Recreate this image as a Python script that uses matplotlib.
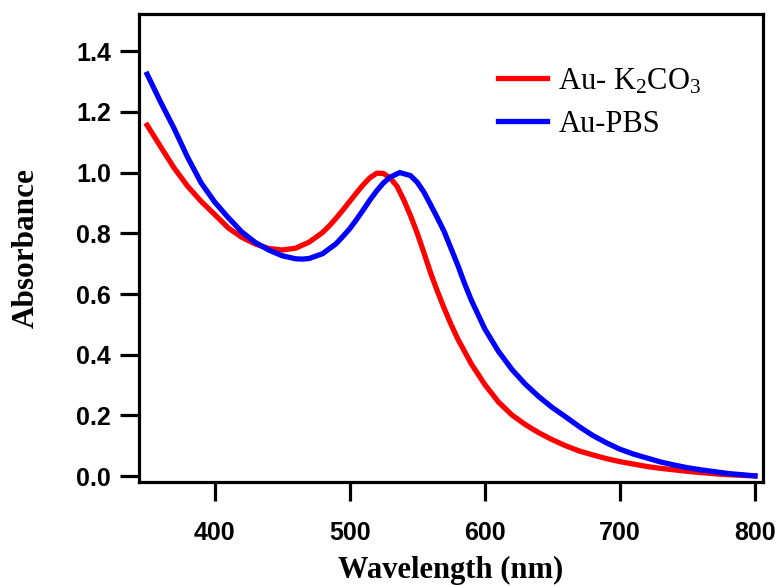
import numpy as np
import matplotlib
matplotlib.use("Agg")
import matplotlib.pyplot as plt
from matplotlib import font_manager as fm

# ---------------------------------------------------------------------------
# Data
# ---------------------------------------------------------------------------
wl_k2co3 = [350, 360, 370, 380, 390, 400, 410, 420, 430, 440, 450, 460, 470,
            480, 485, 490, 495, 500, 505, 510, 515, 520, 525, 530, 535, 540,
            545, 550, 555, 560, 565, 570, 575, 580, 590, 600, 610, 620, 630,
            640, 650, 660, 670, 680, 690, 700, 710, 720, 730, 740, 750, 760,
            770, 780, 790, 800]
abs_k2co3 = [1.156, 1.085, 1.015, 0.955, 0.905, 0.862, 0.818, 0.787, 0.765,
             0.750, 0.745, 0.751, 0.771, 0.803, 0.825, 0.850, 0.877, 0.905,
             0.933, 0.960, 0.983, 0.998, 0.997, 0.982, 0.955, 0.910, 0.858,
             0.800, 0.735, 0.668, 0.608, 0.552, 0.500, 0.452, 0.370, 0.302,
             0.245, 0.202, 0.170, 0.143, 0.120, 0.100, 0.083, 0.070, 0.058,
             0.048, 0.040, 0.032, 0.026, 0.021, 0.016, 0.012, 0.008, 0.005,
             0.003, 0.001]

wl_pbs = [350, 360, 370, 380, 390, 400, 410, 420, 430, 440, 450, 460, 465,
          470, 480, 490, 495, 500, 505, 510, 515, 520, 525, 530, 537, 545,
          550, 555, 560, 565, 570, 575, 580, 585, 590, 600, 610, 620, 630,
          640, 650, 660, 670, 680, 690, 700, 710, 720, 730, 740, 750, 760,
          770, 780, 790, 800]
abs_pbs = [1.324, 1.232, 1.145, 1.050, 0.966, 0.903, 0.852, 0.805, 0.770,
           0.745, 0.726, 0.716, 0.715, 0.717, 0.733, 0.766, 0.790, 0.815,
           0.845, 0.877, 0.910, 0.940, 0.966, 0.985, 1.000, 0.990, 0.968,
           0.935, 0.893, 0.850, 0.805, 0.750, 0.695, 0.635, 0.580, 0.485,
           0.412, 0.352, 0.303, 0.262, 0.226, 0.195, 0.163, 0.134, 0.110,
           0.089, 0.073, 0.060, 0.047, 0.037, 0.028, 0.021, 0.015, 0.009,
           0.005, 0.001]

labels = ["Au- K$_2$CO$_3$", "Au-PBS"]
colors = ["#ff0000", "#0000ff"]

# ---------------------------------------------------------------------------
# Fonts: Arial-like bold ticks (avoid the Narrow variant), Times-like labels
# ---------------------------------------------------------------------------
sans_bold = None
for f in fm.fontManager.ttflist:
    if (f.name == "Liberation Sans" and f.weight in (700, "bold")
            and f.style == "normal" and "Narrow" not in f.fname):
        sans_bold = f.fname
        break
tick_font = (fm.FontProperties(fname=sans_bold, size=18) if sans_bold
             else fm.FontProperties(family="DejaVu Sans", weight="bold", size=16))

plt.rcParams["mathtext.fontset"] = "custom"
plt.rcParams["mathtext.rm"] = "Liberation Serif"
plt.rcParams["mathtext.it"] = "Liberation Serif:italic"

# ---------------------------------------------------------------------------
# Plot
# ---------------------------------------------------------------------------
fig = plt.figure(figsize=(7.81, 5.86), dpi=100)
ax = fig.add_axes([0.178, 0.177, 0.799, 0.799])

ax.plot(wl_k2co3, abs_k2co3, color=colors[0], linewidth=3.8, label=labels[0])
ax.plot(wl_pbs, abs_pbs, color=colors[1], linewidth=3.8, label=labels[1])

ax.set_xlim(344, 806)
ax.set_ylim(-0.02, 1.522)
yt = np.arange(0, 1.41, 0.2)
ax.set_xticks([400, 500, 600, 700, 800])
ax.set_yticks(yt)
ax.set_yticklabels([f"{v:.1f}" for v in yt])

for sp in ax.spines.values():
    sp.set_linewidth(2.3)

ax.tick_params(axis="both", direction="out", length=14, width=2.3,
               top=False, right=False)
ax.tick_params(axis="y", pad=6)
ax.tick_params(axis="x", pad=14)
for lab in ax.get_xticklabels() + ax.get_yticklabels():
    lab.set_fontproperties(tick_font)

ax.set_xlabel("Wavelength (nm)", family="Liberation Serif", fontweight="bold",
              fontsize=22, labelpad=8)
ax.set_ylabel("Absorbance", family="Liberation Serif", fontweight="bold",
              fontsize=22.5, labelpad=26)

ax.legend(loc="upper left", bbox_to_anchor=(0.575, 0.888), frameon=False,
          borderaxespad=0, borderpad=0,
          prop={"family": "Liberation Serif", "size": 22},
          handlelength=1.6, handletextpad=0.38, labelspacing=0.46)

plt.savefig("out.png", dpi=100)
plt.close()
